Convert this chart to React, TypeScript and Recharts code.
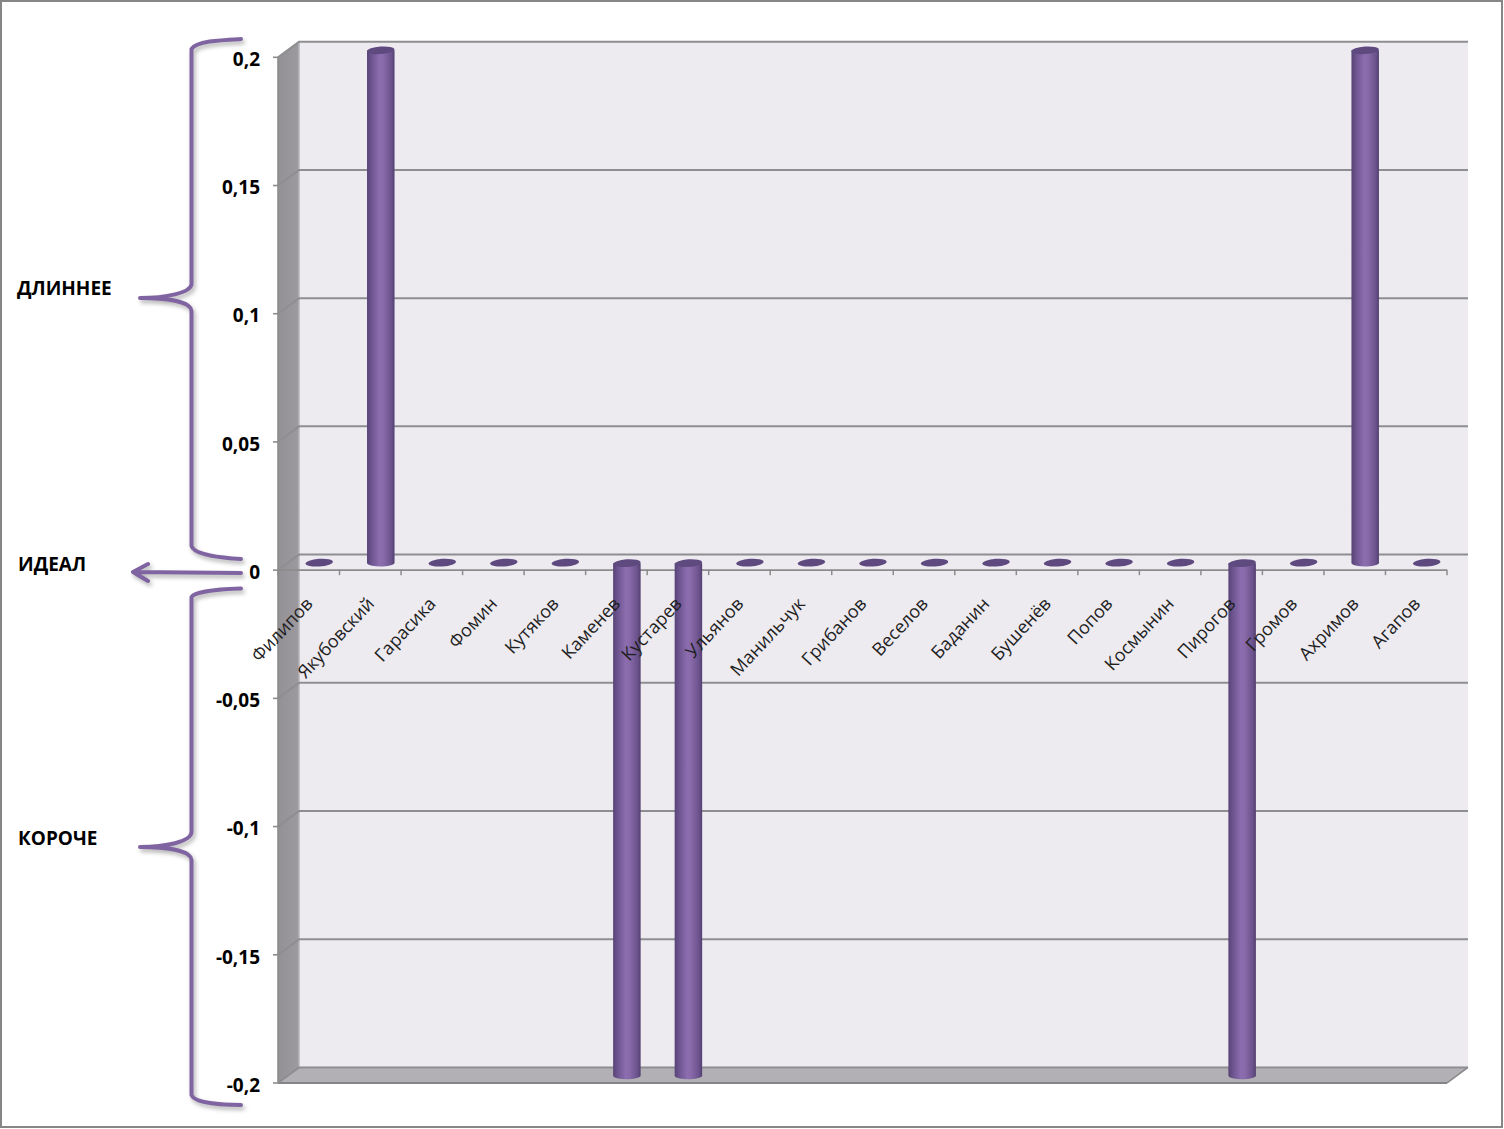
import React from "react";
import { ComposedChart, Bar, XAxis, YAxis, ReferenceArea, ReferenceLine } from "recharts";

const categories = ["Филипов","Якубовский","Гарасика","Фомин","Кутяков","Каменев","Кустарев","Ульянов","Манильчук","Грибанов","Веселов","Баданин","Бушенёв","Попов","Космынин","Пирогов","Громов","Ахримов","Агапов"];
const deviations = [0,0.2,0,0,0,-0.2,-0.2,0,0,0,0,0,0,0,0,-0.2,0,0.2,0];
const yTicks = [-0.2,-0.15,-0.1,-0.05,0,0.05,0.1,0.15,0.2];
const rows = categories.map((name, i) => ({ name, value: deviations[i] }));

const W = 1504, H = 1129;
const M = { top: 57.3, right: 57, bottom: 45, left: 218 };
const Y_AXIS_W = 60;
const PLOT_W = W - M.left - M.right - Y_AXIS_W;
const PLOT_H = H - M.top - M.bottom;
const BAND = PLOT_W / categories.length;
const DX = 21, DY = -15.6;
const BDX = 10.5, BDY = -7;
const FONT = "'Open Sans', sans-serif";

const Walls = (p: any) => {
  const { x, y, width, height } = p;
  const bx = x + DX, by = y + DY;
  return (
    <g>
      <defs>
        <linearGradient id="cyl" x1="0" x2="1" y1="0" y2="0">
          <stop offset="0" stopColor="#574374" />
          <stop offset="0.14" stopColor="#6a528c" />
          <stop offset="0.45" stopColor="#8c6daf" />
          <stop offset="0.6" stopColor="#8869a9" />
          <stop offset="0.88" stopColor="#6a528c" />
          <stop offset="1" stopColor="#523f6e" />
        </linearGradient>
        <linearGradient id="wallL" x1="0" x2="1" y1="0" y2="0">
          <stop offset="0" stopColor="#939196" />
          <stop offset="1" stopColor="#9c9a9f" />
        </linearGradient>
      </defs>
      <rect x={bx} y={by} width={width} height={height} fill="#edebf0" />
      <polygon points={`${x},${y} ${bx},${by} ${bx},${by + height} ${x},${y + height}`} fill="url(#wallL)" />
      <polygon points={`${x},${y + height} ${bx},${by + height} ${bx + width},${by + height} ${x + width},${y + height}`} fill="#b2b0b5" />
      <line x1={bx} y1={by + height} x2={bx + width} y2={by + height} stroke="#d2d1d5" strokeWidth={1.5} />
      <line x1={bx} y1={by} x2={bx} y2={by + height} stroke="#b5b4b8" strokeWidth={1.5} />
      <line x1={x} y1={y + height} x2={x + width} y2={y + height} stroke="#858585" strokeWidth={2} />
      <line x1={x + width} y1={y + height} x2={bx + width} y2={by + height} stroke="#858585" strokeWidth={1.5} />
    </g>
  );
};

const GridShape = (p: any) => {
  const y = p.y1 ?? p.y;
  const x1 = p.x1 ?? p.x;
  const x2 = p.x2;
  return (
    <polyline
      points={`${x1},${y} ${x1 + DX},${y + DY} ${x2 + DX},${y + DY}`}
      fill="none"
      stroke="#8e8e91"
      strokeWidth={2}
    />
  );
};

const Cylinder = (p: any) => {
  const { x, y, width, height } = p;
  const h = Math.abs(height || 0);
  const top = (height < 0 ? y + height : y) + BDY;
  const left = x + BDX;
  const cx = left + width / 2;
  const rx = width / 2;
  const ry = 3.8;
  const tilt = (yy: number) => `rotate(-4 ${cx} ${yy})`;
  if (h < 1) {
    return <ellipse cx={cx} cy={top - 0.5} rx={rx} ry={ry} fill="#5f4a80" transform={tilt(top)} />;
  }
  const bottom = top + h;
  return (
    <g>
      <path
        d={`M${left},${top} L${left},${bottom} A${rx},${ry} 0 0 0 ${left + width},${bottom - 1} L${left + width},${top} Z`}
        fill="url(#cyl)"
      />
      <ellipse cx={cx} cy={top} rx={rx} ry={ry} fill="#5f4a80" transform={tilt(top)} />
    </g>
  );
};

const CategoryTick = (p: any) => {
  const { x, y, payload, index } = p;
  const zero = y - PLOT_H / 2;
  const last = index === categories.length - 1;
  return (
    <g>
      <line x1={x - BAND / 2} y1={zero} x2={x - BAND / 2} y2={zero + 5.5} stroke="#8c8c8c" strokeWidth={1.5} />
      {last && <line x1={x + BAND / 2} y1={zero} x2={x + BAND / 2} y2={zero + 5.5} stroke="#8c8c8c" strokeWidth={1.5} />}
      <text
        x={0}
        y={0}
        transform={`translate(${x + 5} ${zero + 35}) rotate(-47)`}
        textAnchor="end"
        fontFamily={FONT}
        fontSize={18}
        fill="#1f1f1f"
      >
        {payload.value}
      </text>
    </g>
  );
};

const brace = (d: string) => (
  <path d={d} fill="none" stroke="#8064a2" strokeWidth={4} strokeLinecap="round" strokeLinejoin="round" />
);

const notes = [
  { text: "ДЛИННЕЕ", x: 17, y: 295 },
  { text: "ИДЕАЛ", x: 18, y: 571 },
  { text: "КОРОЧЕ", x: 18, y: 845 },
];

export default function App() {
  return (
    <div style={{ position: "absolute", left: 0, top: 0, width: W, height: H, background: "#fff", overflow: "hidden" }}>
      <ComposedChart
        width={W}
        height={H}
        data={rows}
        margin={M}
        barSize={27.5}
        style={{ position: "absolute", left: 0, top: 0 }}
      >
        <ReferenceArea x1={categories[0]} x2={categories[categories.length - 1]} y1={-0.2} y2={0.2} ifOverflow="visible" shape={Walls} zIndex={100} />
        {yTicks.map((t) => (
          <ReferenceLine key={t} y={t} ifOverflow="visible" shape={GridShape} zIndex={150} />
        ))}
        <ReferenceLine y={0} ifOverflow="visible" stroke="#8c8c8c" strokeWidth={1.8} zIndex={150} />
        <YAxis
          width={Y_AXIS_W}
          domain={[-0.2, 0.2]}
          ticks={yTicks}
          interval={0}
          tickFormatter={(v: number) => String(v).replace(".", ",")}
          axisLine={{ stroke: "#8c8c8c", strokeWidth: 1.6 }}
          tickLine={{ stroke: "#8c8c8c", strokeWidth: 1.6 }}
          tickSize={5}
          tickMargin={13}
          tick={{ fontFamily: FONT, fontWeight: 700, fontSize: 19, fill: "#000", dy: 2 }}
        />
        <Bar dataKey="value" isAnimationActive={false} shape={Cylinder} />
        <XAxis
          dataKey="name"
          height={1}
          interval={0}
          axisLine={false}
          tickLine={false}
          tickSize={0}
          tickMargin={0}
          tick={CategoryTick}
        />
      </ComposedChart>
      <svg width={W} height={H} style={{ position: "absolute", left: 0, top: 0, pointerEvents: "none" }}>
        <rect x={1} y={1} width={1501} height={1126} fill="none" stroke="#868686" strokeWidth={2} />
        <g style={{ filter: "drop-shadow(2px 3px 2px rgba(0,0,0,0.3))" }}>
          {brace("M241,39 C222,40 196,41 191.5,49 L191.5,284 C191,293 165,298 140,298 C165,298 191,301 191.5,311 L191.5,546 C194,555 222,558 241,559")}
          {brace("M241,588.5 C222,589 195,591 191.5,597 L191.5,832 C191,842 165,847 140,847 C165,847 191,850 191.5,860 L191.5,1095 C194,1103 222,1105 241,1105")}
          {brace("M241,573 L133,572 M148,564 L133,572 L148,581")}
        </g>
        {notes.map((n) => (
          <text key={n.text} x={n.x} y={n.y} fontFamily={FONT} fontWeight={700} fontSize={19} fill="#000">
            {n.text}
          </text>
        ))}
      </svg>
    </div>
  );
}
